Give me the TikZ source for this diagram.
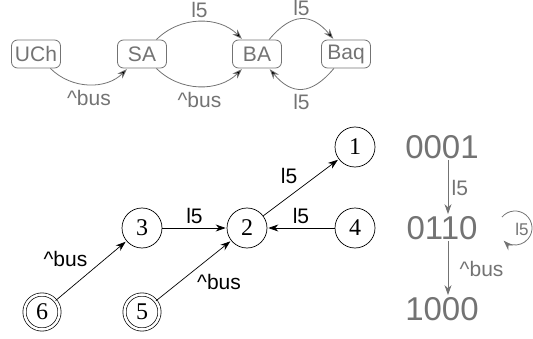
\documentclass[tikz,border=0pt]{standalone}
\usepackage{fontspec}
\setmainfont{Liberation Serif}
\setsansfont{Liberation Sans}
\usetikzlibrary{arrows.meta,positioning}
\colorlet{aut}{black!55}
\tikzset{
  ast/.style  = { draw=aut, text=aut, rounded corners=6pt, line width=0.8pt, inner sep=2pt,
    minimum height=28pt, minimum width=49pt, font=\sffamily\fontsize{21}{21}\selectfont },
  lbl/.style  = { font=\sffamily\fontsize{21}{21}\selectfont },
  glbl/.style = { lbl, text=aut },
  loc/.style  = { draw, circle, line width=0.7pt, minimum size=40pt, inner sep=0pt,
    font=\fontsize{24}{24}\selectfont },
  acc/.style  = { loc, double, double distance=2.5pt, minimum size=35pt },
  bits/.style = { text=aut, inner sep=1pt, font=\sffamily\fontsize{33}{33}\selectfont },
  garr/.style = { draw=aut, line width=0.8pt, -{Stealth[length=10pt,width=7pt]} },
  barr/.style = { draw, line width=0.7pt, -{Stealth[length=10pt,width=7pt]} }
}
\begin{document}
\begin{tikzpicture}[x=1pt, y=1pt, shorten >=1pt, on grid, node distance=80pt]
    \useasboundingbox (0,0) rectangle (533,338);
    % top: UCh -> SA -> BA <-> Baq
    \node[ast] (uch) at (36,284) {UCh};
    \node[ast, right=106pt of uch] (sa) {SA};
    \node[ast, right=115pt of sa] (bA) {BA};
    \node[ast, right=89pt of bA] (baq) {Baq};
    \path[garr] (uch) edge[out=-45, in=-135] node[glbl, below=2pt] {\textasciicircum bus} (sa);
    \path[garr] (sa) edge[out=45, in=135] node[glbl, above] {l5} (bA);
    \path[garr] (sa) edge[out=-45, in=-135] node[glbl, below=2pt] {\textasciicircum bus} (bA);
    \path[garr] (bA) edge[out=50, in=130, looseness=1.4] node[glbl, above] {l5} (baq);
    \path[garr] (baq) edge[out=-130, in=-50, looseness=1.4] node[glbl, below=2pt] {l5} (bA);
    % bottom left: states 1..6
    \node[loc] (n2) at (247,110) {2};
    \node[loc, left=105pt of n2] (n3) {3};
    \node[loc, right=108pt of n2] (n4) {4};
    \node[loc, above=81pt of n4] (n1) {1};
    \node[acc, below=84pt of n3] (n5) {5};
    \node[acc, left=100pt of n5] (n6) {6};
    \path[barr] (n3) edge node[lbl, above=1pt] {l5} (n2);
    \path[barr] (n4) edge node[lbl, above=1pt] {l5} (n2);
    \path[barr] (n2) edge node[lbl, above left] {l5} (n1);
    \path[barr] (n6) edge node[lbl, above left] {\textasciicircum bus} (n3);
    \path[barr] (n5) edge node[lbl, below right] {\textasciicircum bus} (n2);
    % right: bit vectors
    \node[bits] (b2) at (442,110) {0110};
    \node[bits, above=81pt of b2] (b1) {0001};
    \node[bits, below=81pt of b2] (b3) {1000};
    \draw[garr] ([xshift=6pt]b1.south) -- node[glbl, right] {l5} ([xshift=6pt]b2.north);
    \draw[garr] ([xshift=6pt]b2.south) -- node[glbl, right=8pt] {\textasciicircum bus} ([xshift=6pt]b3.north);
    \coordinate (lc) at (515,110);
    \node[glbl, font=\sffamily\fontsize{17}{17}\selectfont] (lp) at (522,109) {l5};
    \draw[garr] (lc) ++(140:17pt) arc[start angle=140, end angle=-135, radius=17pt];
\end{tikzpicture}
\end{document}
